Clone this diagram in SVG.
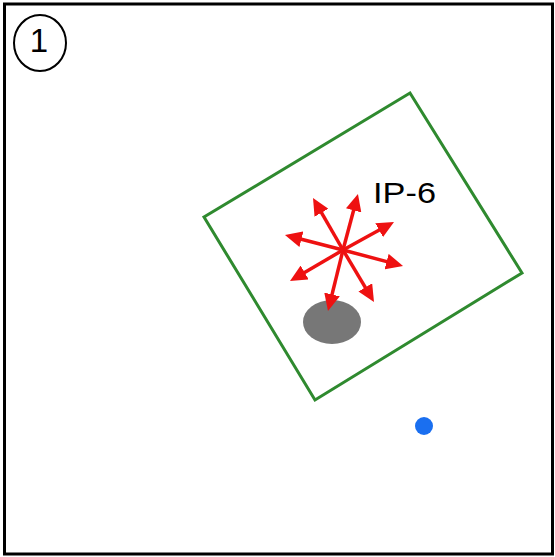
<svg xmlns="http://www.w3.org/2000/svg" width="555" height="557" viewBox="0 0 555 557">
  <style>
    .frame { fill: #ffffff; stroke: #000000; stroke-width: 3; }
    .badge { fill: none; stroke: #000000; stroke-width: 2; }
    .lbl { font-family: "Liberation Sans", Arial, sans-serif; fill: #000000; }
    .ray { stroke: #ee1111; stroke-width: 3.5; fill: none; marker-end: url(#head); }
  </style>
  <defs>
    <marker id="head" markerUnits="userSpaceOnUse" markerWidth="17" markerHeight="16" refX="9" refY="8" orient="auto">
      <path d="M0,0 L17,8 L0,16 z" fill="#ee1111"/>
    </marker>
  </defs>
  <rect class="frame" x="4.5" y="4" width="548" height="550"/>
  <g id="badge">
    <ellipse class="badge" cx="40" cy="43" rx="26" ry="28"/>
    <text class="lbl" x="39" y="52" font-size="33" text-anchor="middle">1</text>
  </g>
  <g id="region">
    <polygon points="410,93 522,273 315,400 204,217" fill="none" stroke="#2f8a2f" stroke-width="3"/>
  </g>
  <g id="blob">
    <ellipse cx="332" cy="322" rx="29" ry="22" fill="#777777"/>
  </g>
  <g id="target">
    <circle cx="424" cy="426" r="9" fill="#1a6ff0"/>
  </g>
  <g id="connectors">
    <line class="ray" x1="343" y1="250" x2="317" y2="204.9"/>
    <line class="ray" x1="343" y1="250" x2="355.9" y2="201.7"/>
    <line class="ray" x1="343" y1="250" x2="387" y2="225.8"/>
    <line class="ray" x1="343" y1="250" x2="395.3" y2="263.9"/>
    <line class="ray" x1="343" y1="250" x2="369.9" y2="295.1"/>
    <line class="ray" x1="343" y1="250" x2="329.9" y2="303.2"/>
    <line class="ray" x1="343" y1="250" x2="296.9" y2="277"/>
    <line class="ray" x1="343" y1="250" x2="292.7" y2="237"/>
  </g>
  <g id="ip6">
    <text class="lbl" x="373" y="203" font-size="30" textLength="63" lengthAdjust="spacingAndGlyphs">IP-6</text>
  </g>
</svg>
